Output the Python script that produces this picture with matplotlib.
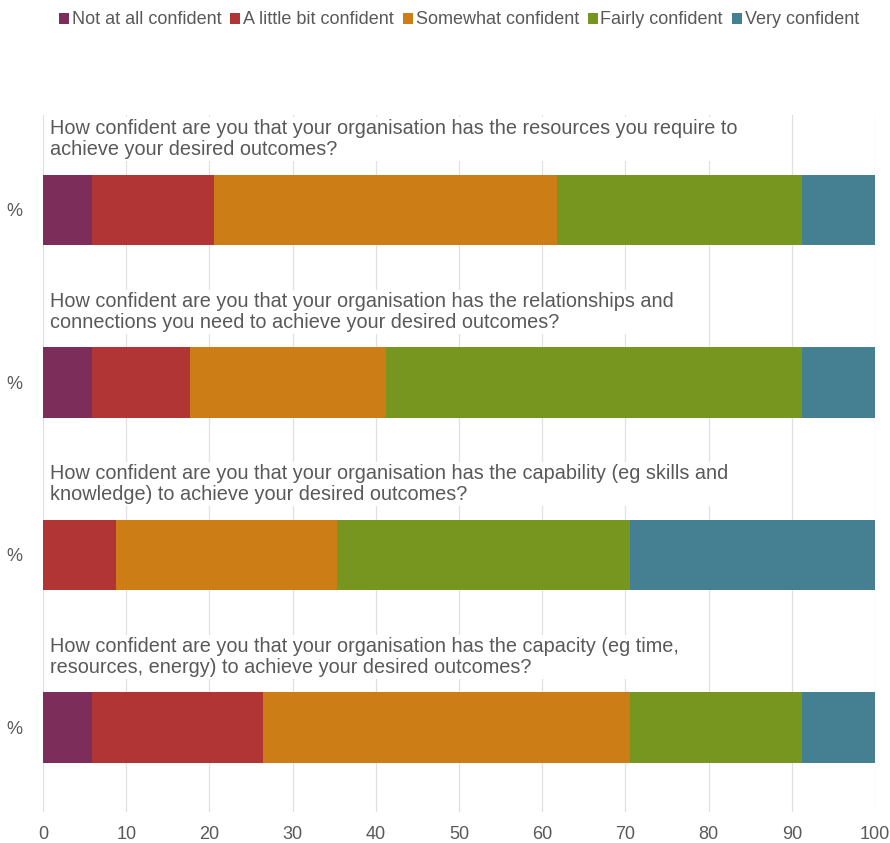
import matplotlib.pyplot as plt
import numpy as np

plt.rcParams['font.family'] = ['Liberation Sans', 'DejaVu Sans']

# kategorie odpowiedzi
levels = ['Not at all confident', 'A little bit confident', 'Somewhat confident',
          'Fairly confident', 'Very confident']
colors = ['#7D2D5A', '#B23535', '#CD7D16', '#76961F', '#457F92']

questions = [
    'How confident are you that your organisation has the resources you require to\nachieve your desired outcomes?',
    'How confident are you that your organisation has the relationships and\nconnections you need to achieve your desired outcomes?',
    'How confident are you that your organisation has the capability (eg skills and\nknowledge) to achieve your desired outcomes?',
    'How confident are you that your organisation has the capacity (eg time,\nresources, energy) to achieve your desired outcomes?',
]

# wartości w % dla każdego pytania
not_at_all = [5.9, 5.9, 0.0, 5.9]
little_bit = [14.7, 11.8, 8.8, 20.6]
somewhat = [41.2, 23.5, 26.5, 44.1]
fairly = [29.4, 50.0, 35.3, 20.6]
very = [8.8, 8.8, 29.4, 8.8]

data = np.array([not_at_all, little_bit, somewhat, fairly, very])
grey = '#595959'

fig = plt.figure(figsize=(8.9, 8.43), dpi=100)
ax = fig.add_axes([43 / 890, 1 - 812 / 843, 832 / 890, 697 / 843])

y = np.arange(len(questions))
left = np.zeros(len(questions))
for i in range(len(levels)):
    ax.barh(y, data[i], left=left, height=0.41, color=colors[i], label=levels[i], zorder=3)
    left += data[i]

# pytania nad słupkami
for i, q in enumerate(questions):
    ax.text(0.8, y[i] - 0.41, q, ha='left', va='center', fontsize=14.3, color=grey,
            linespacing=1.15, zorder=4,
            bbox=dict(facecolor='white', edgecolor='none', pad=1.5))

ax.set_xlim(0, 100)
ax.set_ylim(3.49, -0.55)
ax.set_xticks(np.arange(0, 101, 10))
ax.set_yticks(y)
ax.set_yticklabels(['%'] * len(questions))
ax.tick_params(axis='both', length=0, colors=grey, labelsize=13)
ax.tick_params(axis='x', pad=10)
ax.tick_params(axis='y', pad=15)
ax.grid(axis='x', color='#E0E0E0', linewidth=0.9, zorder=0)
for s in ax.spines.values():
    s.set_visible(False)

handles, labels = ax.get_legend_handles_labels()
fig.legend(handles, labels, loc='center', bbox_to_anchor=(459 / 890, 1 - 20 / 843), ncol=5,
           frameon=False, fontsize=13, handlelength=0.55, handleheight=0.55,
           handletextpad=0.15, columnspacing=0.5, labelcolor=grey)

plt.savefig('out.png', dpi=100)
